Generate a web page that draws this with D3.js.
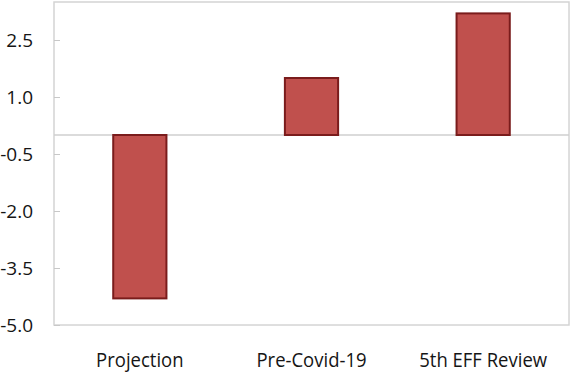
<!DOCTYPE html>
<html>
<head>
<meta charset="utf-8">
<script src="https://cdn.jsdelivr.net/npm/d3@7"></script>
<style>
  html, body { margin: 0; padding: 0; background: #fff; }
  svg { display: block; }
  text { font-family: "Open Sans", "Noto Sans", sans-serif; fill: #151515; }
</style>
</head>
<body>
<svg id="chart" width="571" height="376"></svg>
<script>
// Scenario labels and their values
const categories = ["Projection", "Pre-Covid-19", "5th EFF Review"];
const values = [-4.3, 1.5, 3.2];
const tickValues = [2.5, 1.0, -0.5, -2.0, -3.5, -5.0];

const svg = d3.select("#chart");
const margin = { top: 2, right: 2, bottom: 51, left: 54 };
const width = 571 - margin.left - margin.right;
const height = 376 - margin.top - margin.bottom;

const g = svg.append("g").attr("transform", `translate(${margin.left},${margin.top})`);

const x = d3.scaleBand().domain(categories).range([0, width]).paddingInner(0.69).paddingOuter(0.345);
const y = d3.scaleLinear().domain([-5, 3.5]).range([height, 0]);

// plot frame
g.append("rect")
  .attr("x", 0).attr("y", 0).attr("width", width).attr("height", height)
  .attr("fill", "none").attr("stroke", "#d4d4d4").attr("stroke-width", 1.5);

// zero line
g.append("line")
  .attr("x1", 0).attr("x2", width)
  .attr("y1", y(0)).attr("y2", y(0))
  .attr("stroke", "#cfcfcf").attr("stroke-width", 1.5);

// y axis, plain hyphen for negative numbers
const fmt = d => d3.format(".1f")(d).replace("\u2212", "-");
const yAxis = g.append("g")
  .call(d3.axisLeft(y).tickValues(tickValues).tickFormat(fmt).tickSize(-6).tickPadding(21));
yAxis.select(".domain").remove();
yAxis.selectAll(".tick line").attr("stroke", "#c8c8c8");
yAxis.selectAll(".tick text")
  .attr("font-size", 19).attr("font-weight", 500)
  .attr("font-family", "'Open Sans', sans-serif").attr("fill", "#151515");

// bars
g.selectAll("rect.bar")
  .data(categories.map((c, i) => ({ c, v: values[i] })))
  .join("rect")
  .attr("class", "bar")
  .attr("x", d => x(d.c))
  .attr("width", x.bandwidth())
  .attr("y", d => y(Math.max(0, d.v)))
  .attr("height", d => Math.abs(y(d.v) - y(0)))
  .attr("fill", "#c0504d")
  .attr("stroke", "#7a1c1c")
  .attr("stroke-width", 2);

// category labels
g.selectAll("text.cat")
  .data(categories)
  .join("text")
  .attr("class", "cat")
  .attr("transform", d => `translate(${x(d) + x.bandwidth() / 2},${height + 42}) scale(1,1.1)`)
  .attr("text-anchor", "middle")
  .attr("font-size", 18.5)
  .attr("font-weight", 500)
  .text(d => d);
</script>
</body>
</html>
